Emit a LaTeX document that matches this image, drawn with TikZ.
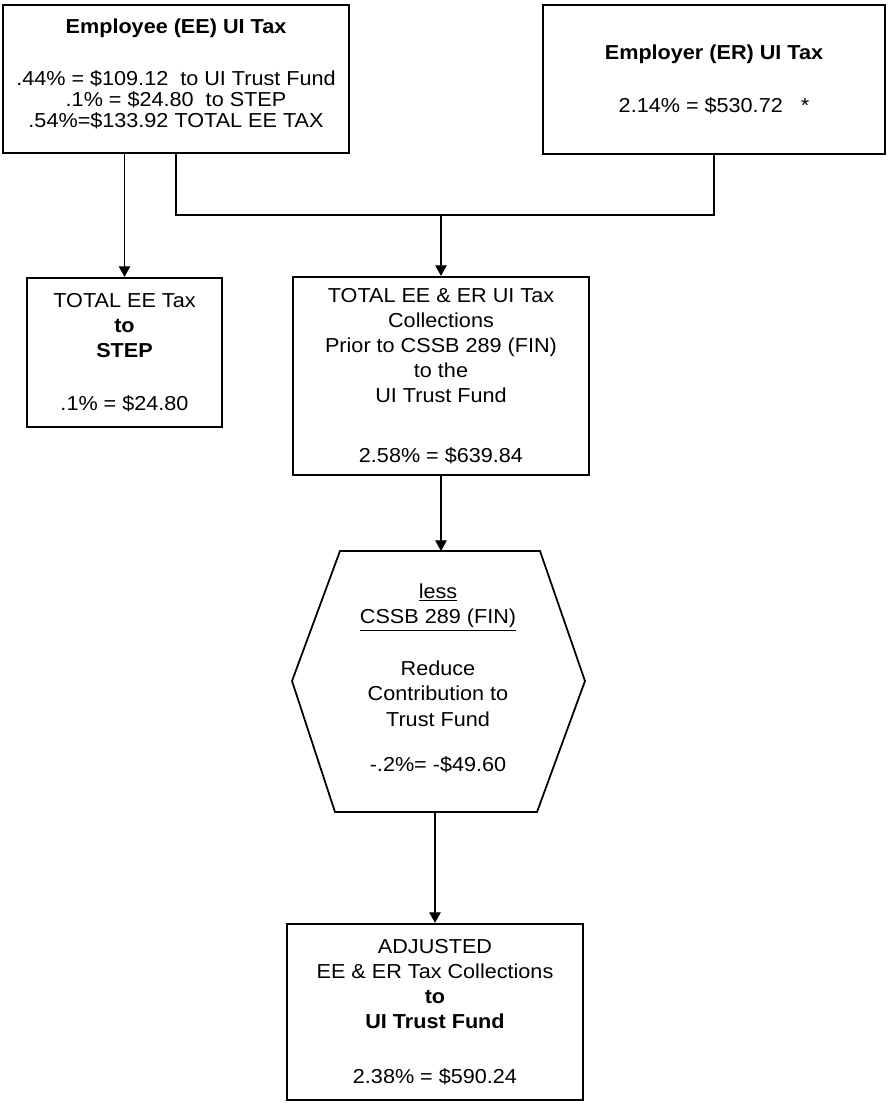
\documentclass[tikz,border=0pt]{standalone}
\usepackage{fontspec}
\setmainfont{Liberation Sans}[FakeStretch=1.07]
\usetikzlibrary{arrows.meta}

\begin{document}
\begin{tikzpicture}[x=0.02cm,y=-0.02cm]
\tikzstyle{caja texto}=[draw,line width=1.3pt,align=center,inner sep=0pt,font=\fontsize{11.5pt}{14.2pt}\selectfont]
\tikzstyle{caja arriba}=[caja texto,font=\fontsize{11.5pt}{12pt}\selectfont]
\tikzstyle{flecha}=[line width=0.6pt,-{Triangle[width=6.5pt,length=6pt]}]
\tikzstyle{linea}=[line width=0.6pt]

\useasboundingbox (0,0) rectangle (887,1103);

\node[caja arriba,minimum width=6.92cm,minimum height=2.96cm] (ee) at (176,79) {\textbf{Employee (EE) UI Tax}\\[0.62cm] .44\% = \$109.12~~to UI Trust Fund\\ .1\% = \$24.80~~to STEP\\ .54\%=\$133.92 TOTAL EE TAX\\[-0.18cm]~};
\node[caja arriba,minimum width=6.84cm,minimum height=2.98cm] (er) at (714,79.5) {\textbf{Employer (ER) UI Tax}\\[0.64cm] 2.14\% = \$530.72~~~*};
\node[caja texto,minimum width=3.9cm,minimum height=2.98cm] (step) at (124.5,352.5) {TOTAL EE Tax\\ \textbf{to}\\ \textbf{STEP}\\[0.56cm] .1\% = \$24.80};
\node[caja texto,minimum width=5.92cm,minimum height=3.96cm] (total) at (441,376) {TOTAL EE \& ER UI Tax\\ Collections\\ Prior to CSSB 289 (FIN)\\ to the\\ UI Trust Fund\\[0.7cm] 2.58\% = \$639.84};
\node[align=center,inner sep=0pt,font=\fontsize{11.5pt}{14.6pt}\selectfont] (reduce) at (438,678) {\underline{less}\\ \underline{CSSB 289 (FIN)}\\[0.52cm] Reduce\\ Contribution to\\ Trust Fund\\[0.38cm] -.2\%= -\$49.60};
\node[caja texto,minimum width=5.92cm,minimum height=3.52cm] (adjusted) at (435,1012) {ADJUSTED\\ EE \& ER Tax Collections\\ \textbf{to}\\ \textbf{UI Trust Fund}\\[0.6cm] 2.38\% = \$590.24};

% hexagono
\draw[line width=1pt] (292,681) -- (340,551) -- (540,551) -- (585,681) -- (537,812) -- (335,812) -- cycle;
\coordinate (hexa arriba) at (total.south |- 0,551);
\coordinate (hexa abajo) at (adjusted.north |- 0,812);
\coordinate (junta) at (total.north |- 0,215);

\draw[flecha] (step.north |- ee.south) -- (step.north);
\draw[linea] (ee.south) |- (junta) -| (er.south);
\draw[flecha] (junta) -- (total.north);
\draw[flecha] (total.south) -- (hexa arriba);
\draw[flecha] (hexa abajo) -- (adjusted.north);
\end{tikzpicture}
\end{document}
